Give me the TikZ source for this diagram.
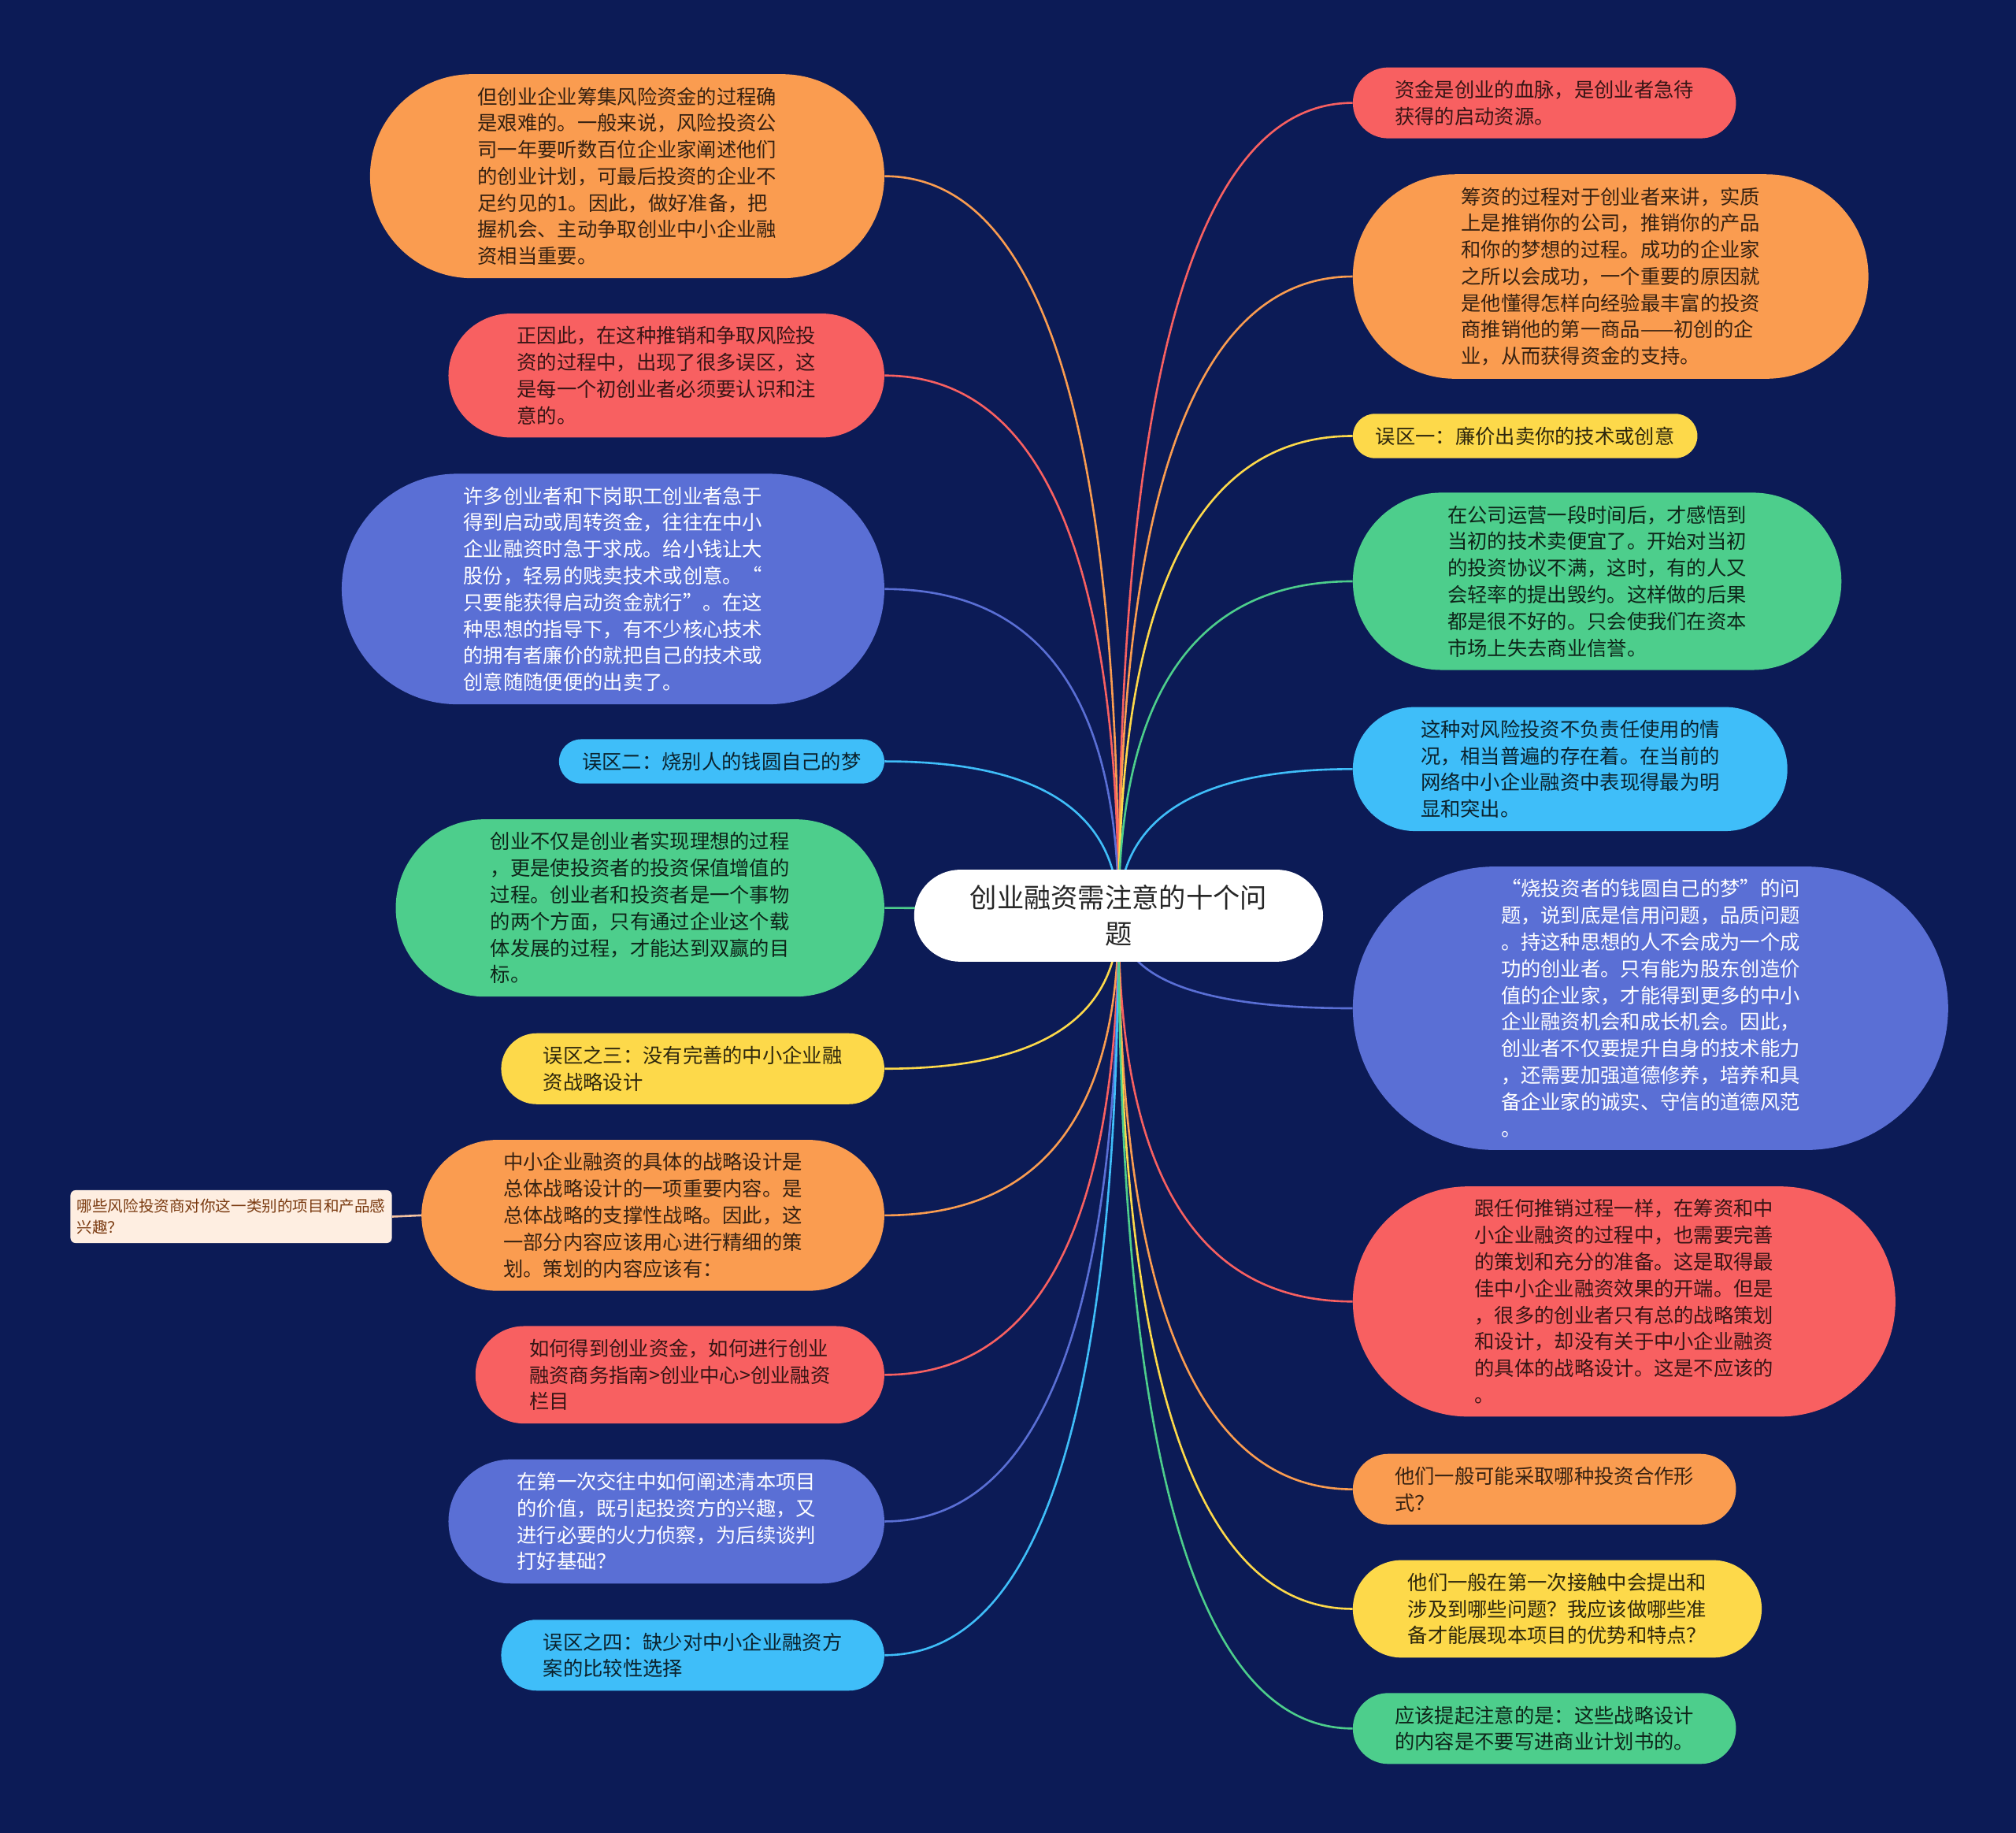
\documentclass[tikz,border=0pt]{standalone}
\usepackage{fontspec}
\setmainfont{Noto Sans CJK SC}
\usetikzlibrary{calc,positioning,shapes.misc}

\definecolor{bgnavy}{HTML}{0C1B56}
\definecolor{cOrange}{HTML}{FA9C50}
\definecolor{cRed}{HTML}{F86061}
\definecolor{cBlue}{HTML}{5A6FD5}
\definecolor{cSky}{HTML}{3FBEF9}
\definecolor{cGreen}{HTML}{4DCE8C}
\definecolor{cYellow}{HTML}{FDD94A}
\definecolor{cCream}{HTML}{FEEEE1}
\definecolor{cPeach}{HTML}{F4C2A0}
\definecolor{cBrown}{HTML}{7A3A10}

\pgfdeclarelayer{back}
\pgfdeclarelayer{lines}
\pgfsetlayers{back,lines,main}

\tikzset{leaf/.style={rounded rectangle, minimum width={#1+6pt}, inner xsep=3pt, inner ysep=10pt, align=left, font=\fontsize{15.5}{20.7}\selectfont}}
\tikzset{oraleaf/.style={leaf=#1, fill=cOrange, text=cOrange!22!black}}
\tikzset{redleaf/.style={leaf=#1, fill=cRed, text=cRed!22!black}}
\tikzset{blueleaf/.style={leaf=#1, fill=cBlue, text=white}}
\tikzset{skyleaf/.style={leaf=#1, fill=cSky, text=cSky!18!black}}
\tikzset{greenleaf/.style={leaf=#1, fill=cGreen, text=cGreen!18!black}}
\tikzset{yelleaf/.style={leaf=#1, fill=cYellow, text=cYellow!18!black}}
\tikzset{branch/.style={line width=1.6pt, to path={.. controls ($(\tikztostart)!0.667!(\tikztostart|-\tikztotarget)$) and ($(\tikztotarget)!0.667!(\tikztostart|-\tikztotarget)$) .. (\tikztotarget)}}}

\begin{document}
\begin{tikzpicture}[x=1pt,y=-1pt]
      \useasboundingbox (0,0) rectangle (1568,1425);
      \begin{pgfonlayer}{back}
        \fill[bgnavy] (0,0) rectangle (1568,1425);
      \end{pgfonlayer}
      % root
      \node[rounded rectangle, fill=white, text=black!85, align=center, minimum width=328pt, inner xsep=5pt, inner ysep=12pt, font=\fontsize{21}{28}\selectfont] (root) at (870,712) {创业融资需注意的十个问\\题};
      % left side
      \node[oraleaf=400pt, anchor=east] (l1) at (688,137) {但创业企业筹集风险资金的过程确\\是艰难的。一般来说，风险投资公\\司一年要听数百位企业家阐述他们\\的创业计划，可最后投资的企业不\\足约见的1。因此，做好准备，把\\握机会、主动争取创业中小企业融\\资相当重要。};
      \node[redleaf=339pt, anchor=east] (l2) at (688,292) {正因此，在这种推销和争取风险投\\资的过程中，出现了很多误区，这\\是每一个初创业者必须要认识和注\\意的。};
      \node[blueleaf=422pt, anchor=east] (l3) at (688,458) {许多创业者和下岗职工创业者急于\\得到启动或周转资金，往往在中小\\企业融资时急于求成。给小钱让大\\股份，轻易的贱卖技术或创意。“\\只要能获得启动资金就行”。在这\\种思想的指导下，有不少核心技术\\的拥有者廉价的就把自己的技术或\\创意随随便便的出卖了。};
      \node[skyleaf=253pt, anchor=east] (l4) at (688,592) {误区二：烧别人的钱圆自己的梦};
      \node[greenleaf=380pt, anchor=east] (l5) at (688,706) {创业不仅是创业者实现理想的过程\\，更是使投资者的投资保值增值的\\过程。创业者和投资者是一个事物\\的两个方面，只有通过企业这个载\\体发展的过程，才能达到双赢的目\\标。};
      \node[yelleaf=298pt, anchor=east] (l6) at (688,831) {误区之三：没有完善的中小企业融\\资战略设计};
      \node[oraleaf=360pt, anchor=east] (l7) at (688,945) {中小企业融资的具体的战略设计是\\总体战略设计的一项重要内容。是\\总体战略的支撑性战略。因此，这\\一部分内容应该用心进行精细的策\\划。策划的内容应该有：};
      \node[redleaf=318pt, anchor=east] (l8) at (688,1069) {如何得到创业资金，如何进行创业\\融资商务指南>创业中心>创业融资\\栏目};
      \node[blueleaf=339pt, anchor=east] (l9) at (688,1183) {在第一次交往中如何阐述清本项目\\的价值，既引起投资方的兴趣，又\\进行必要的火力侦察，为后续谈判\\打好基础？};
      \node[skyleaf=298pt, anchor=east] (l10) at (688,1287) {误区之四：缺少对中小企业融资方\\案的比较性选择};
      \node[rounded corners=4pt, fill=cCream, text=cBrown, align=left, inner xsep=5pt, inner ysep=7pt, font=\fontsize{12}{16}\selectfont, anchor=east] (c1) at (305,946) {哪些风险投资商对你这一类别的项目和产品感\\兴趣？};
      % right side
      \node[redleaf=298pt, anchor=west] (r1) at (1052,80) {资金是创业的血脉，是创业者急待\\获得的启动资源。};
      \node[oraleaf=401pt, anchor=west] (r2) at (1052,215) {筹资的过程对于创业者来讲，实质\\上是推销你的公司，推销你的产品\\和你的梦想的过程。成功的企业家\\之所以会成功，一个重要的原因就\\是他懂得怎样向经验最丰富的投资\\商推销他的第一商品——初创的企\\业，从而获得资金的支持。};
      \node[yelleaf=268pt, anchor=west] (r3) at (1052,339) {误区一：廉价出卖你的技术或创意};
      \node[greenleaf=380pt, anchor=west] (r4) at (1052,452) {在公司运营一段时间后，才感悟到\\当初的技术卖便宜了。开始对当初\\的投资协议不满，这时，有的人又\\会轻率的提出毁约。这样做的后果\\都是很不好的。只会使我们在资本\\市场上失去商业信誉。};
      \node[skyleaf=338pt, anchor=west] (r5) at (1052,598) {这种对风险投资不负责任使用的情\\况，相当普遍的存在着。在当前的\\网络中小企业融资中表现得最为明\\显和突出。};
      \node[blueleaf=463pt, anchor=west] (r6) at (1052,784) {“烧投资者的钱圆自己的梦”的问\\题，说到底是信用问题，品质问题\\。持这种思想的人不会成为一个成\\功的创业者。只有能为股东创造价\\值的企业家，才能得到更多的中小\\企业融资机会和成长机会。因此，\\创业者不仅要提升自身的技术能力\\，还需要加强道德修养，培养和具\\备企业家的诚实、守信的道德风范\\。};
      \node[redleaf=422pt, anchor=west] (r7) at (1052,1012) {跟任何推销过程一样，在筹资和中\\小企业融资的过程中，也需要完善\\的策划和充分的准备。这是取得最\\佳中小企业融资效果的开端。但是\\，很多的创业者只有总的战略策划\\和设计，却没有关于中小企业融资\\的具体的战略设计。这是不应该的\\。};
      \node[oraleaf=298pt, anchor=west] (r8) at (1052,1158) {他们一般可能采取哪种投资合作形\\式？};
      \node[yelleaf=318pt, anchor=west] (r9) at (1052,1251) {他们一般在第一次接触中会提出和\\涉及到哪些问题？我应该做哪些准\\备才能展现本项目的优势和特点？};
      \node[greenleaf=298pt, anchor=west] (r10) at (1052,1344) {应该提起注意的是：这些战略设计\\的内容是不要写进商业计划书的。};
      % connectors
      \begin{pgfonlayer}{lines}
        \draw[branch, cOrange] (root.center) to (l1.east);
        \draw[branch, cRed] (root.center) to (l2.east);
        \draw[branch, cBlue] (root.center) to (l3.east);
        \draw[branch, cSky] (root.center) to (l4.east);
        \draw[branch, cGreen] (root.center) to (l5.east);
        \draw[branch, cYellow] (root.center) to (l6.east);
        \draw[branch, cOrange] (root.center) to (l7.east);
        \draw[branch, cRed] (root.center) to (l8.east);
        \draw[branch, cBlue] (root.center) to (l9.east);
        \draw[branch, cSky] (root.center) to (l10.east);
        \draw[line width=1.6pt, cPeach] (l7.west) -- (c1.east);
        \draw[branch, cRed] (root.center) to (r1.west);
        \draw[branch, cOrange] (root.center) to (r2.west);
        \draw[branch, cYellow] (root.center) to (r3.west);
        \draw[branch, cGreen] (root.center) to (r4.west);
        \draw[branch, cSky] (root.center) to (r5.west);
        \draw[branch, cBlue] (root.center) to (r6.west);
        \draw[branch, cRed] (root.center) to (r7.west);
        \draw[branch, cOrange] (root.center) to (r8.west);
        \draw[branch, cYellow] (root.center) to (r9.west);
        \draw[branch, cGreen] (root.center) to (r10.west);
      \end{pgfonlayer}
    \end{tikzpicture}
\end{document}
